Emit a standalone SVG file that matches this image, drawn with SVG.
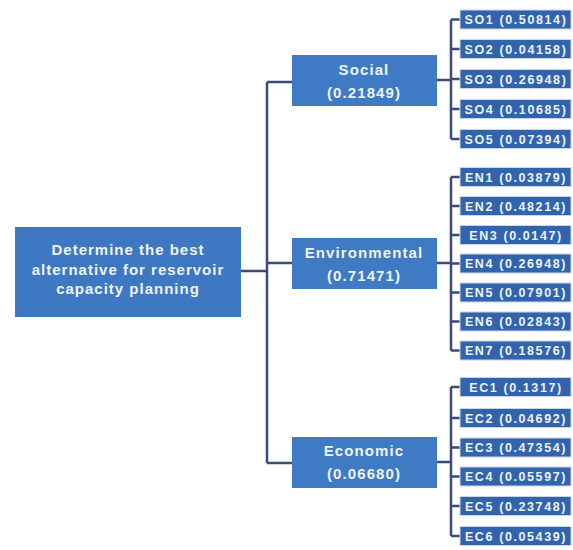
<svg xmlns="http://www.w3.org/2000/svg" width="573" height="550" viewBox="0 0 573 550">
<style>
.root{fill:#3f78c2}
.mid{fill:#3f7bc4}
.leaf{fill:#3264ae;stroke:#c9d6ec;stroke-width:1}
.t{font-family:"Liberation Sans",Arial,sans-serif;font-weight:bold;fill:#eef3fb;text-anchor:middle}
.tr{font-size:15px;letter-spacing:1px}
.tm{font-size:15px;letter-spacing:1.1px}
.tl{font-size:12.5px;letter-spacing:1.6px}
.c{fill:none;stroke:#3b4a78;stroke-width:2.5}
</style>
<rect width="573" height="550" fill="#ffffff"/>
<g id="connectors">
<path class="c" d="M241,271 H267 M267,82 V463 M267,82 H292 M267,263 H292 M267,463 H292"/>
<path class="c" d="M437,80 H451 M451,19.5 V139 M451,19.5 H460 M451,49 H460 M451,79 H460 M451,109 H460 M451,139 H460"/>
<path class="c" d="M437,263 H451 M451,177 V350.5 M451,177 H460 M451,206 H460 M451,235 H460 M451,263.5 H460 M451,292.5 H460 M451,321.5 H460 M451,350.5 H460"/>
<path class="c" d="M437,462 H451 M451,387 V536 M451,387 H460 M451,418 H460 M451,447.5 H460 M451,476.5 H460 M451,506 H460 M451,536 H460"/>
</g>
<g id="root">
<rect class="root" x="15" y="227" width="226" height="90"/>
<text class="t tr" x="128" y="255">Determine the best</text>
<text class="t tr" x="128" y="275">alternative for reservoir</text>
<text class="t tr" x="128" y="294">capacity  planning</text>
</g>
<g id="social">
<rect class="mid" x="292" y="55" width="145" height="51"/>
<text class="t tm" x="364" y="75">Social</text>
<text class="t tm" x="364" y="98">(0.21849)</text>
</g>
<g id="environmental">
<rect class="mid" x="292" y="238" width="145" height="51"/>
<text class="t tm" x="364" y="258">Environmental</text>
<text class="t tm" x="364" y="281">(0.71471)</text>
</g>
<g id="economic">
<rect class="mid" x="292" y="437" width="145" height="51"/>
<text class="t tm" x="364" y="456">Economic</text>
<text class="t tm" x="364" y="479">(0.06680)</text>
</g>
<g id="SO1"><rect class="leaf" x="460" y="10" width="111" height="19"/><text class="t tl" x="516" y="24">SO1 (0.50814)</text></g>
<g id="SO2"><rect class="leaf" x="460" y="39.5" width="111" height="19"/><text class="t tl" x="516" y="53.5">SO2 (0.04158)</text></g>
<g id="SO3"><rect class="leaf" x="460" y="69.5" width="111" height="19"/><text class="t tl" x="516" y="83.5">SO3 (0.26948)</text></g>
<g id="SO4"><rect class="leaf" x="460" y="99.5" width="111" height="19"/><text class="t tl" x="516" y="113.5">SO4 (0.10685)</text></g>
<g id="SO5"><rect class="leaf" x="460" y="129.5" width="111" height="19"/><text class="t tl" x="516" y="143.5">SO5 (0.07394)</text></g>
<g id="EN1"><rect class="leaf" x="460" y="167.5" width="111" height="19"/><text class="t tl" x="516" y="181.5">EN1 (0.03879)</text></g>
<g id="EN2"><rect class="leaf" x="460" y="196.5" width="111" height="19"/><text class="t tl" x="516" y="210.5">EN2 (0.48214)</text></g>
<g id="EN3"><rect class="leaf" x="460" y="225.5" width="111" height="19"/><text class="t tl" x="516" y="239.5">EN3 (0.0147)</text></g>
<g id="EN4"><rect class="leaf" x="460" y="254" width="111" height="19"/><text class="t tl" x="516" y="268">EN4 (0.26948)</text></g>
<g id="EN5"><rect class="leaf" x="460" y="283" width="111" height="19"/><text class="t tl" x="516" y="297">EN5 (0.07901)</text></g>
<g id="EN6"><rect class="leaf" x="460" y="312" width="111" height="19"/><text class="t tl" x="516" y="326">EN6 (0.02843)</text></g>
<g id="EN7"><rect class="leaf" x="460" y="341" width="111" height="19"/><text class="t tl" x="516" y="355">EN7 (0.18576)</text></g>
<g id="EC1"><rect class="leaf" x="460" y="377.5" width="111" height="19"/><text class="t tl" x="516" y="391.5">EC1 (0.1317)</text></g>
<g id="EC2"><rect class="leaf" x="460" y="408.5" width="111" height="19"/><text class="t tl" x="516" y="422.5">EC2 (0.04692)</text></g>
<g id="EC3"><rect class="leaf" x="460" y="438" width="111" height="19"/><text class="t tl" x="516" y="452">EC3 (0.47354)</text></g>
<g id="EC4"><rect class="leaf" x="460" y="467" width="111" height="19"/><text class="t tl" x="516" y="481">EC4 (0.05597)</text></g>
<g id="EC5"><rect class="leaf" x="460" y="496.5" width="111" height="19"/><text class="t tl" x="516" y="510.5">EC5 (0.23748)</text></g>
<g id="EC6"><rect class="leaf" x="460" y="526.5" width="111" height="19"/><text class="t tl" x="516" y="540.5">EC6 (0.05439)</text></g>
</svg>
